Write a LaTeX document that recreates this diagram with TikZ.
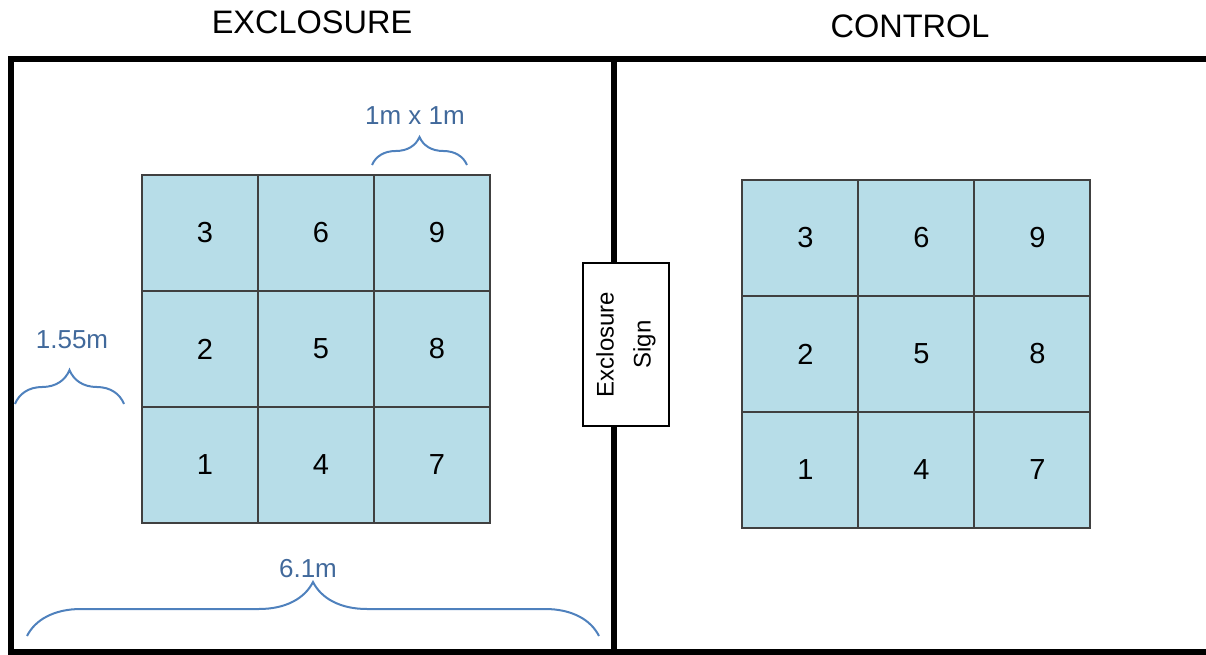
\documentclass[tikz,border=0pt]{standalone}
\usepackage{fontspec}
\setmainfont{Liberation Sans}
\usetikzlibrary{decorations.pathreplacing}

\definecolor{plotblue}{RGB}{183,221,232}
\definecolor{bracecol}{RGB}{79,129,189}
\definecolor{labelcol}{RGB}{65,105,155}

\tikzset{
    cell/.style={draw=black!75, line width=1.2pt, fill=plotblue, minimum size=116pt,
        inner sep=0pt, font=\fontsize{29}{34}\selectfont},
    wall/.style={line width=6pt},
    dim/.style={decorate, decoration={brace, amplitude=#1}, draw=bracecol, line width=2pt},
    dimlabel/.style={text=labelcol, font=\fontsize{26}{31}\selectfont},
    title/.style={font=\fontsize{32.5}{39}\selectfont},
    signbox/.style={draw, fill=white, line width=1.5pt, rotate=90, minimum width=163pt,
        minimum height=86pt, align=center, font=\fontsize{24}{37}\selectfont}
}

\begin{document}
\begin{tikzpicture}[x=1pt, y=1pt]
        \useasboundingbox (0, 0) rectangle (1206, 654);

        \node[title] (extitle) at (312, 632) {EXCLOSURE};
        \node[title] (cotitle) at (910, 628) {CONTROL};

        % fence
        \draw[wall] (1212, 595)--(11, 595)--(11, 2.5)--(1212, 2.5);
        \draw[wall] (614, 595)--(614, 2.5);
        \node[signbox] (sign) at (626, 309.5) {Exclosure\\Sign};

        % plots
        \foreach \i in {0,1,2}{
            \foreach \j in {0,1,2}{
                \pgfmathtruncatemacro\plotno{3*\i+\j+1}
                \node[cell] (e\plotno) at (200+116*\i, 189+116*\j) {\hspace*{10pt}\plotno};
                \node[cell] (c\plotno) at (800+116*\i, 184+116*\j) {\hspace*{11pt}\plotno};
            };
        };

        % dimensions
        \coordinate (t1) at (372, 489);
        \coordinate (t2) at (467, 489);
        \draw[dim=28pt] (t1)--(t2);
        \node[dimlabel] (plotsize) at (415, 538) {1m x 1m};

        \coordinate (s1) at (15, 250);
        \coordinate (s2) at (124, 250);
        \draw[dim=34pt] (s1)--(s2);
        \node[dimlabel] (margin) at (72, 314) {1.55m};

        \coordinate (b1) at (27, 18);
        \coordinate (b2) at (599, 18);
        \draw[dim=54pt] (b1)--(b2);
        \node[dimlabel] (width) at (308, 85) {6.1m};
    \end{tikzpicture}
\end{document}
